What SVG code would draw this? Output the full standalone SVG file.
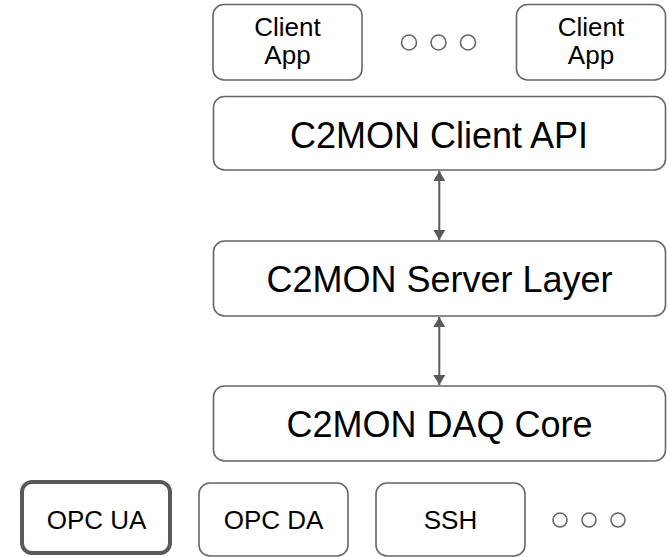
<svg xmlns="http://www.w3.org/2000/svg" width="669" height="557" viewBox="0 0 669 557">
<style>
.box{fill:#fff;stroke:#666;stroke-width:1.6}
.thick{fill:#fff;stroke:#595959;stroke-width:4}
.t{font-family:"Liberation Sans",Arial,sans-serif;fill:#000;text-anchor:middle}
.big{font-size:36px}
.sm{font-size:26px}
.dot{fill:none;stroke:#666;stroke-width:1.6}
.conn{stroke:#595959;stroke-width:2;fill:none}
</style>
<defs>
<marker id="ah" viewBox="0 0 10 12" refX="10" refY="6" markerWidth="10" markerHeight="12" markerUnits="userSpaceOnUse" orient="auto-start-reverse">
<path d="M0,0 L10,6 L0,12 Z" fill="#595959"/>
</marker>
</defs>
<g id="client-app-1">
<rect class="box" x="213" y="4.5" width="149" height="75.5" rx="11"/>
<text class="t sm" x="287.5" y="36">Client</text>
<text class="t sm" x="287.5" y="64">App</text>
</g>
<g id="client-dots">
<circle class="dot" cx="409" cy="42.5" r="7.5"/>
<circle class="dot" cx="438.5" cy="42.5" r="7.5"/>
<circle class="dot" cx="468" cy="42.5" r="7.5"/>
</g>
<g id="client-app-2">
<rect class="box" x="516.5" y="4.5" width="149" height="75.5" rx="11"/>
<text class="t sm" x="591" y="36">Client</text>
<text class="t sm" x="591" y="64">App</text>
</g>
<g id="client-api">
<rect class="box" x="213.5" y="96.5" width="452" height="73.5" rx="11"/>
<text class="t big" x="439" y="148">C2MON Client API</text>
</g>
<g id="server-layer">
<rect class="box" x="213.5" y="241" width="452" height="75" rx="11"/>
<text class="t big" x="439.5" y="292">C2MON Server Layer</text>
</g>
<g id="daq-core">
<rect class="box" x="213.5" y="386" width="452" height="75" rx="11"/>
<text class="t big" x="439.5" y="437">C2MON DAQ Core</text>
</g>
<g id="opc-ua">
<rect class="thick" x="22" y="482" width="148" height="71" rx="10"/>
<text class="t sm" x="96.5" y="529">OPC UA</text>
</g>
<g id="opc-da">
<rect class="box" x="199" y="483" width="149" height="73" rx="11"/>
<text class="t sm" x="273.5" y="529">OPC DA</text>
</g>
<g id="ssh">
<rect class="box" x="376" y="483" width="149" height="73" rx="11"/>
<text class="t sm" x="450.5" y="529">SSH</text>
</g>
<g id="daq-dots">
<circle class="dot" cx="560" cy="520" r="7"/>
<circle class="dot" cx="589" cy="520" r="7"/>
<circle class="dot" cx="618" cy="520" r="7"/>
</g>
<g id="connectors">
<line class="conn" x1="439.3" y1="171" x2="439.3" y2="240" marker-start="url(#ah)" marker-end="url(#ah)"/>
<line class="conn" x1="439.3" y1="317" x2="439.3" y2="385" marker-start="url(#ah)" marker-end="url(#ah)"/>
</g>
</svg>
